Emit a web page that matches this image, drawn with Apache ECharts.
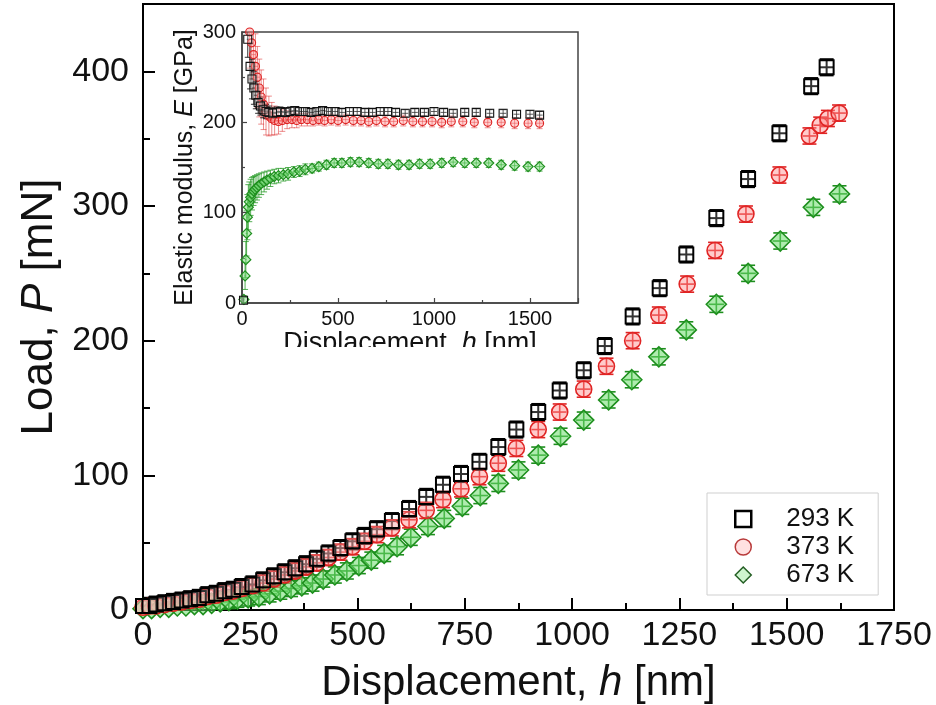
<!DOCTYPE html>
<html>
<head>
<meta charset="utf-8">
<script src="https://cdn.jsdelivr.net/npm/echarts@6/dist/echarts.min.js"></script>
<style>
html,body{margin:0;padding:0;background:#fff;}
#main{width:936px;height:705px;}
</style>
</head>
<body>
<div id="main"></div>
<script>
var FONT = 'Liberation Sans, Arial, sans-serif';
var legendNames = ['293 K', '373 K', '673 K'];

// main plot: displacement h [nm] / load P [mN]
var hBlack = [0,15,30,50,70,90,110,130,150,170,190,210,230,255,280,305,330,355,380,405,432,460,488,516,545,580,620,660,699,741,784,828,870,921,971,1027,1076,1141,1204,1266,1336,1410,1483,1557,1593];
var pBlack = [3,3,4,5,6,7,8,9,11,12,14,15,17,19,22,25,28,31,34,38,42,46,51,55,60,66,75,84,93,101,110,121,134,147,163,178,196,218,239,264,291,320,354,389,403];
var hRed = [0,15,30,50,70,90,110,130,150,170,190,210,230,255,280,305,330,355,380,405,432,460,488,516,545,580,620,660,699,741,784,828,870,921,971,1027,1080,1141,1202,1268,1333,1405,1483,1553,1578,1596,1622];
var pRed = [2,3,3,4,5,6,7,8,10,11,13,14,16,18,20,23,26,29,32,35,39,43,47,51,56,61,67,74,82,90,99,109,120,134,147,164,181,200,219,242,267,294,323,352,360,365,369];
var hGreen = [0,20,40,60,80,100,120,140,160,180,200,220,245,270,295,320,345,370,395,420,447,475,503,532,562,592,624,664,702,744,786,828,875,921,973,1027,1085,1139,1202,1266,1336,1410,1485,1562,1623];
var pGreen = [1,1,2,2,3,3,4,4,5,6,7,8,9,10,12,14,16,18,20,23,26,29,33,37,42,47,54,62,68,77,85,94,104,115,129,141,156,171,188,208,227,250,274,299,309];
// error bar half widths [dh, dP]
var errBlack = [16, 6];
var errRed = [16, 6];
var errGreen = [18, 6];

// inset: [h, E, dh, dE]
var insetBlack = [[8,3,3,3],[30,292,5,20],[42,262,6,25],[52,248,8,22],[62,238,10,18],[72,230,10,15],[84,222,12,12],[96,218,12,10],[110,214,14,9],[125,212,15,8],[140,211,16,7],[160,210,18,6],[180,211,18,6],[200,212,18,5],[225,211,18,5],[250,212,18,5],[275,213,18,4],[300,212,18,4],[330,212,16,4],[360,211,16,4],[390,212,16,4],[420,213,16,4],[450,212,16,4],[485,212,16,4],[520,211,16,4],[560,212,16,4],[600,212,16,4],[640,211,16,4],[680,211,16,4],[720,212,16,4],[760,212,16,4],[800,211,16,4],[850,210,16,4],[900,211,16,4],[950,211,16,4],[1000,212,16,4],[1050,211,16,4],[1100,210,16,4],[1160,211,16,4],[1220,211,16,4],[1290,210,16,4],[1360,210,16,4],[1430,209,16,4],[1500,209,16,4],[1550,208,16,4]];
var insetRed = [[40,300,8,40],[50,288,10,40],[60,275,12,38],[70,262,14,36],[80,250,16,34],[90,238,18,32],[100,228,22,30],[112,220,26,28],[125,212,30,26],[140,207,34,22],[155,204,38,18],[170,202,40,16],[190,201,40,14],[210,202,36,12],[235,203,32,10],[260,203,28,9],[285,202,26,8],[310,203,24,7],[340,203,22,7],[370,202,20,6],[400,203,18,6],[430,202,18,6],[465,203,18,6],[500,202,18,6],[540,203,18,6],[580,202,18,6],[620,202,18,6],[660,201,18,6],[700,202,18,6],[745,201,18,6],[790,201,18,6],[840,202,18,6],[890,201,18,6],[940,201,18,6],[990,201,18,6],[1040,200,18,6],[1090,201,18,6],[1150,201,18,6],[1210,200,18,6],[1280,200,18,6],[1350,200,18,6],[1420,199,18,6],[1490,199,18,6],[1550,199,18,6]];
var insetGreen = [[10,4,3,4],[16,30,4,15],[20,48,4,20],[24,77,5,25],[28,95,6,25],[33,106,6,25],[38,112,8,22],[45,117,10,20],[52,121,12,18],[60,124,14,16],[68,126,16,15],[78,128,18,14],[88,130,20,13],[100,132,22,12],[115,134,24,11],[130,136,26,10],[148,138,28,9],[168,140,30,8],[190,141,30,8],[215,142,30,7],[240,143,30,7],[270,145,28,6],[300,146,26,6],[330,148,24,6],[365,149,22,5],[400,151,20,5],[440,153,20,5],[480,155,20,5],[520,155,18,5],[565,156,18,5],[610,156,18,5],[660,155,18,5],[710,154,18,5],[760,154,18,5],[815,153,18,5],[870,153,18,5],[925,154,18,5],[980,154,18,5],[1040,155,18,5],[1100,156,18,5],[1160,155,18,5],[1220,155,18,5],[1285,155,18,5],[1350,153,18,5],[1420,152,18,5],[1490,151,18,5],[1550,151,18,5]];

function withErr(hs, ps, err){
	var ret = [];
	for (var i = 0; i < hs.length; i++) {
		ret.push([hs[i], ps[i], err[0], err[1]]);
	}
	return ret;
}
function plain(v){
	return String(v);
}
function errSeries(name, data, idx, color, lw, cap){
	return {
		name: name, type: 'custom', xAxisIndex: idx, yAxisIndex: idx,
		silent: true, clip: true, data: data,
		renderItem: function(params, api){
			var x = api.value(0), y = api.value(1), dx = api.value(2), dy = api.value(3);
			var t = api.coord([x, y + dy]), b = api.coord([x, y - dy]);
			var l = api.coord([x - dx, y]), r = api.coord([x + dx, y]);
			var st = {stroke: color, lineWidth: lw, fill: null};
			return {type: 'group', children: [
				{type: 'line', shape: {x1: t[0], y1: t[1], x2: b[0], y2: b[1]}, style: st},
				{type: 'line', shape: {x1: l[0], y1: l[1], x2: r[0], y2: r[1]}, style: st},
				{type: 'line', shape: {x1: t[0] - cap, y1: t[1], x2: t[0] + cap, y2: t[1]}, style: st},
				{type: 'line', shape: {x1: b[0] - cap, y1: b[1], x2: b[0] + cap, y2: b[1]}, style: st}
			]};
		}
	};
}
function markSeries(name, data, idx, symbol, size, fill, stroke, lw){
	return {
		name: name, type: 'scatter', xAxisIndex: idx, yAxisIndex: idx,
		symbol: symbol, symbolSize: size, clip: false, silent: true,
		data: data.map(function(d){ return [d[0], d[1]]; }),
		itemStyle: {color: fill, borderColor: stroke, borderWidth: lw, opacity: 1}
	};
}
function axisX(idx, big){
	return {
		gridIndex: idx, type: 'value', min: 0, max: 1750, interval: big ? 250 : 500,
		axisLine: {lineStyle: {color: big ? '#000' : '#444', width: big ? 2 : 1.5}},
		axisTick: {inside: true, length: big ? 12 : 5, lineStyle: {color: big ? '#000' : '#444', width: big ? 2 : 1.2}},
		minorTick: {show: true, splitNumber: 2, length: big ? 7 : 3, lineStyle: {color: big ? '#000' : '#444', width: big ? 2 : 1.2}},
		splitLine: {show: false},
		axisLabel: {fontSize: big ? 34 : 20, color: '#111', margin: big ? 9 : 6, fontFamily: FONT, showMaxLabel: big, formatter: plain},
		name: 'Displacement, {i|h} [nm]', nameLocation: 'middle', nameGap: big ? 52 : 27,
		nameTextStyle: {fontSize: big ? 42 : 27, color: '#111', fontFamily: FONT,
			rich: {i: {fontSize: big ? 42 : 27, fontStyle: 'italic', color: '#111', fontFamily: FONT}}}
	};
}

var myChart = echarts.init(document.getElementById('main'));
var option = {
	backgroundColor: '#fff',
	animation: false,
	grid: [
		{left: 143, right: 42, top: 4, bottom: 95, show: true, borderColor: '#000', borderWidth: 2, outerBoundsMode: 'none', containLabel: false},
		{left: 242, right: 358, top: 32, bottom: 402, show: true, backgroundColor: '#fff', borderColor: '#444', borderWidth: 1.5, outerBoundsMode: 'none', containLabel: false}
	],
	xAxis: [axisX(0, true), axisX(1, false)],
	yAxis: [
		{
			gridIndex: 0, type: 'value', min: 0, max: 450, interval: 100,
			axisLine: {lineStyle: {color: '#000', width: 2}},
			axisTick: {inside: true, length: 12, lineStyle: {color: '#000', width: 2}},
			minorTick: {show: true, splitNumber: 2, length: 7, lineStyle: {color: '#000', width: 2}},
			splitLine: {show: false},
			axisLabel: {fontSize: 34, color: '#111', margin: 14, fontFamily: FONT, showMaxLabel: false, formatter: plain},
			name: 'Load, {i|P} [mN]', nameLocation: 'middle', nameGap: 70, nameRotate: 90,
			nameTextStyle: {fontSize: 44, color: '#111', fontFamily: FONT,
				rich: {i: {fontSize: 44, fontStyle: 'italic', color: '#111', fontFamily: FONT}}}
		},
		{
			gridIndex: 1, type: 'value', min: 0, max: 300, interval: 100,
			axisLine: {lineStyle: {color: '#444', width: 1.5}},
			axisTick: {inside: true, length: 5, lineStyle: {color: '#444', width: 1.2}},
			minorTick: {show: true, splitNumber: 2, length: 3, lineStyle: {color: '#444', width: 1.2}},
			splitLine: {show: false},
			axisLabel: {fontSize: 20, color: '#111', margin: 6, fontFamily: FONT, formatter: plain},
			name: 'Elastic modulus, {i|E} [GPa]', nameLocation: 'middle', nameGap: 44, nameRotate: 90,
			nameTextStyle: {fontSize: 25, color: '#111', fontFamily: FONT,
				rich: {i: {fontSize: 25, fontStyle: 'italic', color: '#111', fontFamily: FONT}}}
		}
	],
	legend: {
		orient: 'vertical', left: 707, top: 493,
		padding: [12, 24, 6, 27], itemWidth: 16, itemHeight: 16, itemGap: 0,
		borderColor: '#cfcfcf', borderWidth: 1, selectedMode: false,
		textStyle: {fontSize: 26, color: '#111', fontFamily: FONT, lineHeight: 28, padding: [0, 0, 0, 30]},
		data: [
			{name: legendNames[0], icon: 'rect', itemStyle: {color: '#fff', borderColor: '#000', borderWidth: 2.5}},
			{name: legendNames[1], icon: 'circle', itemStyle: {color: 'rgba(255,180,180,0.4)', borderColor: '#b83a3a', borderWidth: 1.5}},
			{name: legendNames[2], icon: 'diamond', itemStyle: {color: 'rgba(160,235,160,0.5)', borderColor: '#245f24', borderWidth: 1.5}}
		]
	},
	graphic: [
		{type: 'rect', left: 262, top: 347, z: 100, shape: {width: 300, height: 18}, style: {fill: '#fff'}}
	],
	series: [
		errSeries('673 err', withErr(hGreen, pGreen, errGreen), 0, '#1e8f1e', 1.6, 7),
		markSeries(legendNames[2], withErr(hGreen, pGreen, errGreen), 0, 'diamond', 20, 'rgba(110,220,110,0.55)', '#1e8f1e', 1.6),
		errSeries('373 err', withErr(hRed, pRed, errRed), 0, '#e02424', 1.6, 7),
		markSeries(legendNames[1], withErr(hRed, pRed, errRed), 0, 'circle', 16, 'rgba(255,140,140,0.45)', '#e02424', 1.6),
		errSeries('293 err', withErr(hBlack, pBlack, errBlack), 0, '#000', 2, 7),
		markSeries(legendNames[0], withErr(hBlack, pBlack, errBlack), 0, 'rect', 14, 'rgba(255,255,255,0.2)', '#000', 2),

		errSeries('673 ierr', insetGreen, 1, 'rgba(30,150,30,0.75)', 1, 3),
		markSeries('673 in', insetGreen, 1, 'diamond', 10, 'rgba(120,220,120,0.5)', '#1e8f1e', 1.2),
		errSeries('373 ierr', insetRed, 1, 'rgba(220,30,30,0.5)', 1, 3),
		markSeries('373 in', insetRed, 1, 'circle', 8, 'rgba(255,140,140,0.4)', '#d22', 1.1),
		errSeries('293 ierr', insetBlack, 1, 'rgba(0,0,0,0.8)', 1, 3),
		markSeries('293 in', insetBlack, 1, 'rect', 8, 'rgba(255,255,255,0.2)', '#111', 1.1)
	]
};
myChart.setOption(option);
</script>
</body>
</html>
